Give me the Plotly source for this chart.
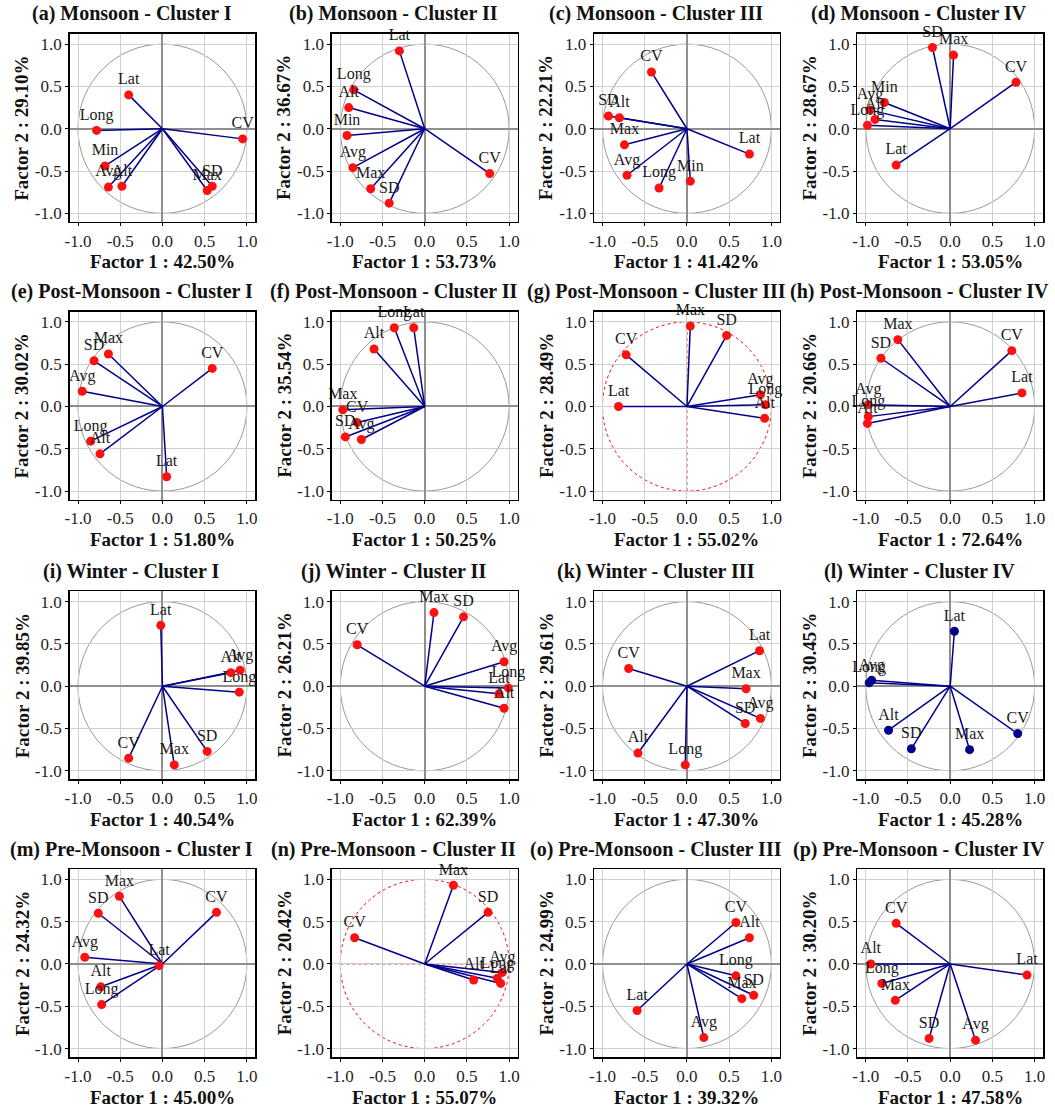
import plotly.graph_objects as go

FIG_W, FIG_H = 1055, 1111
FONT = "Liberation Serif, Times New Roman, serif"

# ---------------- data ----------------
titles = [
    "(a) Monsoon - Cluster I", "(b) Monsoon - Cluster II", "(c) Monsoon - Cluster III", "(d) Monsoon - Cluster IV",
    "(e) Post-Monsoon - Cluster I", "(f) Post-Monsoon - Cluster II", "(g) Post-Monsoon - Cluster III", "(h) Post-Monsoon - Cluster IV",
    "(i) Winter - Cluster I", "(j) Winter - Cluster II", "(k) Winter - Cluster III", "(l) Winter - Cluster IV",
    "(m) Pre-Monsoon - Cluster I", "(n) Pre-Monsoon - Cluster II", "(o) Pre-Monsoon - Cluster III", "(p) Pre-Monsoon - Cluster IV",
]
factor1_pct = ["42.50", "53.73", "41.42", "53.05", "51.80", "50.25", "55.02", "72.64",
               "40.54", "62.39", "47.30", "45.28", "45.00", "55.07", "39.32", "47.58"]
factor2_pct = ["29.10", "36.67", "22.21", "28.67", "30.02", "35.54", "28.49", "20.66",
               "39.85", "26.21", "29.61", "30.45", "24.32", "20.42", "24.99", "30.20"]

a_vars = ["Lat", "Long", "CV", "Min", "Avg", "Alt", "SD", "Max"]
a_f1 = [-0.40, -0.78, 0.95, -0.68, -0.64, -0.48, 0.59, 0.53]
a_f2 = [0.40, -0.02, -0.12, -0.44, -0.69, -0.68, -0.68, -0.73]

b_vars = ["Lat", "Long", "Alt", "Min", "Avg", "Max", "SD", "CV"]
b_f1 = [-0.30, -0.84, -0.90, -0.92, -0.85, -0.64, -0.42, 0.77]
b_f2 = [0.92, 0.46, 0.25, -0.08, -0.46, -0.71, -0.88, -0.53]

c_vars = ["CV", "SD", "Alt", "Max", "Avg", "Long", "Min", "Lat"]
c_f1 = [-0.42, -0.93, -0.80, -0.74, -0.71, -0.33, 0.04, 0.74]
c_f2 = [0.67, 0.15, 0.13, -0.19, -0.55, -0.70, -0.62, -0.30]

d_vars = ["SD", "Max", "CV", "Min", "Avg", "Alt", "Long", "Lat"]
d_f1 = [-0.21, 0.04, 0.78, -0.78, -0.95, -0.89, -0.98, -0.64]
d_f2 = [0.96, 0.87, 0.55, 0.31, 0.22, 0.11, 0.04, -0.43]

e_vars = ["Max", "SD", "CV", "Avg", "Long", "Alt", "Lat"]
e_f1 = [-0.64, -0.81, 0.59, -0.95, -0.85, -0.74, 0.05]
e_f2 = [0.62, 0.54, 0.45, 0.18, -0.41, -0.56, -0.83]

f_vars = ["Long", "Lat", "Alt", "Max", "CV", "SD", "Avg"]
f_f1 = [-0.36, -0.13, -0.60, -0.97, -0.80, -0.94, -0.75]
f_f2 = [0.93, 0.93, 0.68, -0.04, -0.19, -0.36, -0.39]

g_vars = ["Max", "SD", "CV", "Lat", "Avg", "Long", "Alt"]
g_f1 = [0.04, 0.47, -0.72, -0.81, 0.87, 0.93, 0.92]
g_f2 = [0.95, 0.84, 0.61, 0.00, 0.14, 0.02, -0.14]

h_vars = ["Max", "SD", "CV", "Lat", "Avg", "Long", "Alt"]
h_f1 = [-0.62, -0.82, 0.73, 0.85, -0.97, -0.97, -0.98]
h_f2 = [0.79, 0.57, 0.66, 0.16, 0.02, -0.12, -0.20]

i_vars = ["Lat", "Alt", "Avg", "Long", "SD", "Max", "CV"]
i_f1 = [-0.02, 0.81, 0.92, 0.91, 0.53, 0.14, -0.40]
i_f2 = [0.72, 0.16, 0.19, -0.07, -0.77, -0.93, -0.85]

j_vars = ["Max", "SD", "CV", "Avg", "Long", "Lat", "Alt"]
j_f1 = [0.11, 0.46, -0.80, 0.94, 0.99, 0.88, 0.94]
j_f2 = [0.87, 0.82, 0.49, 0.29, -0.02, -0.09, -0.26]

k_vars = ["Lat", "CV", "Max", "SD", "Avg", "Alt", "Long"]
k_f1 = [0.86, -0.69, 0.70, 0.69, 0.87, -0.58, -0.02]
k_f2 = [0.42, 0.21, -0.03, -0.44, -0.38, -0.79, -0.93]

l_vars = ["Lat", "Avg", "Long", "Alt", "SD", "Max", "CV"]
l_f1 = [0.05, -0.93, -0.96, -0.73, -0.46, 0.23, 0.80]
l_f2 = [0.65, 0.07, 0.04, -0.52, -0.74, -0.75, -0.56]

m_vars = ["Max", "SD", "CV", "Avg", "Lat", "Alt", "Long"]
m_f1 = [-0.51, -0.76, 0.64, -0.92, -0.04, -0.73, -0.72]
m_f2 = [0.80, 0.60, 0.61, 0.08, -0.02, -0.27, -0.48]

n_vars = ["Max", "SD", "CV", "Avg", "Alt", "Long", "Lat"]
n_f1 = [0.34, 0.75, -0.83, 0.92, 0.58, 0.86, 0.90]
n_f2 = [0.93, 0.61, 0.31, -0.10, -0.19, -0.17, -0.23]

o_vars = ["CV", "Alt", "Long", "Max", "SD", "Lat", "Avg"]
o_f1 = [0.58, 0.74, 0.58, 0.65, 0.79, -0.59, 0.20]
o_f2 = [0.49, 0.31, -0.14, -0.41, -0.37, -0.55, -0.87]

p_vars = ["CV", "Alt", "Long", "Max", "SD", "Avg", "Lat"]
p_f1 = [-0.64, -0.94, -0.81, -0.65, -0.25, 0.30, 0.91]
p_f2 = [0.48, 0.00, -0.23, -0.43, -0.88, -0.90, -0.13]

panel_vars = [a_vars, b_vars, c_vars, d_vars, e_vars, f_vars, g_vars, h_vars,
              i_vars, j_vars, k_vars, l_vars, m_vars, n_vars, o_vars, p_vars]
panel_f1 = [a_f1, b_f1, c_f1, d_f1, e_f1, f_f1, g_f1, h_f1,
            i_f1, j_f1, k_f1, l_f1, m_f1, n_f1, o_f1, p_f1]
panel_f2 = [a_f2, b_f2, c_f2, d_f2, e_f2, f_f2, g_f2, h_f2,
            i_f2, j_f2, k_f2, l_f2, m_f2, n_f2, o_f2, p_f2]

tick_vals = [-1.0, -0.5, 0.0, 0.5, 1.0]
tick_text = ["-1.0", "-0.5", "0.0", "0.5", "1.0"]

# ---------------- layout geometry (pixels) ----------------
col_left = [65, 329, 593, 858]
row_top = [34, 312, 592, 870]
PW, PH = 187, 188
red_circle_panels = {6, 13}   # (g), (n)
blue_marker_panels = {11}     # (l)

LINE_COLOR = "#00008B"
POINT_RED = "#ff1010"


def px_x(px):
    return px / FIG_W


def px_y(py):
    return 1 - py / FIG_H


fig = go.Figure()
annotations = []
shapes = []

for k in range(16):
    r, c = divmod(k, 4)
    idx = "" if k == 0 else str(k + 1)
    xa, ya = "x" + idx, "y" + idx
    left, top = col_left[c], row_top[r]

    fig.layout["xaxis" + idx] = dict(
        domain=[px_x(left), px_x(left + PW)], range=[-1.1, 1.1], anchor=ya,
        tickvals=tick_vals, ticktext=tick_text, showgrid=True, gridcolor="#cfcfcf", gridwidth=1,
        zeroline=k not in red_circle_panels, zerolinecolor="#8f8f8f", zerolinewidth=2,
        showline=True, mirror=True, linecolor="black", linewidth=1.5,
        ticks="outside", ticklen=3, tickcolor="black",
        tickfont=dict(family=FONT, size=17, color="#222"), fixedrange=True)
    fig.layout["yaxis" + idx] = dict(
        domain=[px_y(top + PH), px_y(top)], range=[-1.1, 1.12], anchor=xa,
        tickvals=tick_vals, ticktext=tick_text, showgrid=True, gridcolor="#cfcfcf", gridwidth=1,
        zeroline=k not in red_circle_panels, zerolinecolor="#8f8f8f", zerolinewidth=2,
        showline=True, mirror=True, linecolor="black", linewidth=1.5,
        ticks="outside", ticklen=3, tickcolor="black",
        tickfont=dict(family=FONT, size=17, color="#222"), fixedrange=True)

    # unit circle
    if k in red_circle_panels:
        shapes.append(dict(type="circle", xref=xa, yref=ya, x0=-1, y0=-1, x1=1, y1=1,
                           line=dict(color="red", width=1, dash="dot"), layer="below"))
        shapes.append(dict(type="line", xref=xa, yref=ya, x0=-1, y0=0, x1=1, y1=0,
                           line=dict(color="red", width=1, dash="dot"), layer="below"))
        shapes.append(dict(type="line", xref=xa, yref=ya, x0=0, y0=-1, x1=0, y1=1,
                           line=dict(color="red", width=1, dash="dot"), layer="below"))
    else:
        shapes.append(dict(type="circle", xref=xa, yref=ya, x0=-1, y0=-1, x1=1, y1=1,
                           line=dict(color="#999999", width=1), layer="below"))

    names = panel_vars[k]
    fx = panel_f1[k]
    fy = panel_f2[k]

    # vectors from origin
    lx, ly = [], []
    for xv, yv in zip(fx, fy):
        lx += [0, xv, None]
        ly += [0, yv, None]
    fig.add_trace(go.Scatter(x=lx, y=ly, mode="lines", xaxis=xa, yaxis=ya,
                             line=dict(color=LINE_COLOR, width=1.5),
                             hoverinfo="skip", showlegend=False))
    mcol = LINE_COLOR if k in blue_marker_panels else POINT_RED
    fig.add_trace(go.Scatter(x=fx, y=fy, mode="markers+text", text=names,
                             textposition="top center",
                             textfont=dict(family=FONT, size=16, color="#1a1a1a"),
                             marker=dict(color=mcol, size=9, line=dict(width=0)),
                             xaxis=xa, yaxis=ya, hoverinfo="skip", showlegend=False,
                             cliponaxis=False))

    # panel title
    annotations.append(dict(text="<b>" + titles[k] + "</b>", xref="paper", yref="paper",
                            x=px_x(left + PW / 2 - 31), y=px_y(top - 20),
                            xanchor="center", yanchor="middle", showarrow=False,
                            font=dict(family=FONT, size=20, color="#111")))
    # axis titles
    annotations.append(dict(text="<b>Factor 1 : " + factor1_pct[k] + "%</b>", xref="paper", yref="paper",
                            x=px_x(left + PW / 2), y=px_y(top + PH + 40),
                            xanchor="center", yanchor="middle", showarrow=False,
                            font=dict(family=FONT, size=19, color="#111")))
    annotations.append(dict(text="<b>Factor 2 : " + factor2_pct[k] + "%</b>", xref="paper", yref="paper",
                            x=px_x(left - 48), y=px_y(top + PH / 2), textangle=-90,
                            xanchor="center", yanchor="middle", showarrow=False,
                            font=dict(family=FONT, size=19, color="#111")))

fig.update_layout(width=FIG_W, height=FIG_H, margin=dict(l=0, r=0, t=0, b=0),
                  paper_bgcolor="white", plot_bgcolor="white",
                  annotations=annotations, shapes=shapes,
                  font=dict(family=FONT))

fig.write_html("out.html", config={"displayModeBar": False, "staticPlot": True},
               post_script="document.body.style.margin='0';document.body.style.overflow='hidden';")
